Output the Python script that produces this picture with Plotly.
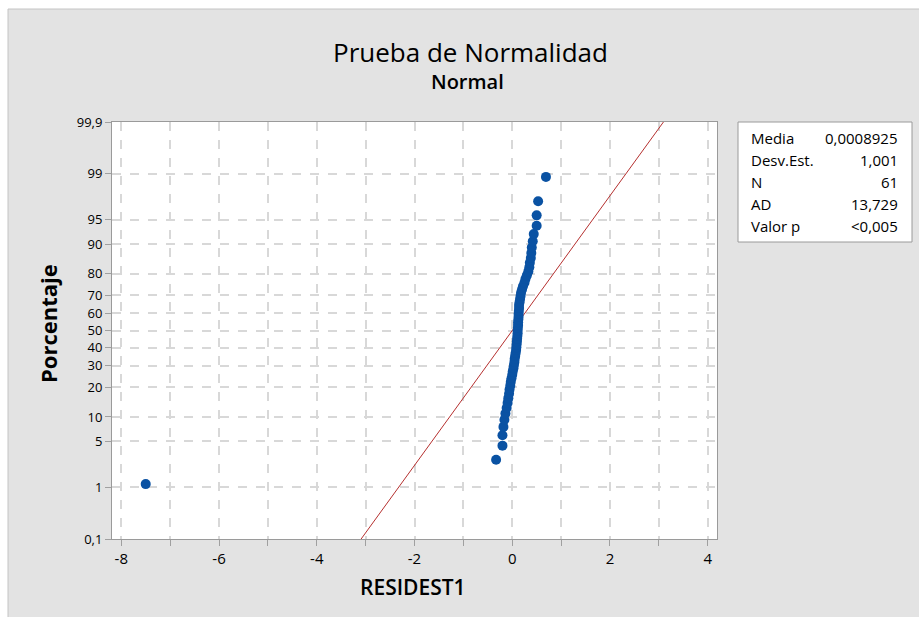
import plotly.graph_objects as go
from statistics import NormalDist

# ---- data ----
residuals = [
    -7.50, -0.33, -0.20, -0.20, -0.18, -0.16, -0.14, -0.115, -0.095, -0.08,
    -0.065, -0.055, -0.04, -0.03, -0.015, 0.00, 0.01, 0.025, 0.035, 0.045,
    0.05, 0.06, 0.07, 0.08, 0.085, 0.09, 0.095, 0.10, 0.105, 0.11,
    0.11, 0.115, 0.12, 0.12, 0.125, 0.13, 0.13, 0.135, 0.14, 0.14,
    0.15, 0.16, 0.17, 0.18, 0.20, 0.22, 0.25, 0.27, 0.30, 0.33,
    0.35, 0.36, 0.38, 0.39, 0.40, 0.42, 0.44, 0.50, 0.50, 0.53, 0.69,
]
mean_val = 0.0008925
sd_val = 1.001
pct_ticks = [0.1, 1, 5, 10, 20, 30, 40, 50, 60, 70, 80, 90, 95, 99, 99.9]
pct_labels = ["0,1", "1", "5", "10", "20", "30", "40", "50", "60", "70", "80", "90", "95", "99", "99,9"]
x_ticks = [-8, -7, -6, -5, -4, -3, -2, -1, 0, 1, 2, 3, 4]
x_labels = ["-8", "", "-6", "", "-4", "", "-2", "", "0", "", "2", "", "4"]
stat_names = ["Media", "Desv.Est.", "N", "AD", "Valor p"]
stat_values = ["0,0008925", "1,001", "61", "13,729", "<0,005"]

nd = NormalDist()
n = len(residuals)
xs = sorted(residuals)
# median ranks (Minitab default) -> normal score
zs = [nd.inv_cdf((i + 1 - 0.3) / (n + 0.4)) for i in range(n)]
ztick = [nd.inv_cdf(p / 100) for p in pct_ticks]
zmin, zmax = ztick[0], ztick[-1]

FONT = "Open Sans"
W, H = 919, 617
L, R, T, B = 112, 717, 122, 539


def px(x):
    return (x - L) / (R - L)


def py(y):
    return (B - y) / (B - T)


fig = go.Figure()
# fitted line
fig.add_trace(go.Scatter(
    x=[mean_val + sd_val * zmin, mean_val + sd_val * zmax], y=[zmin, zmax],
    mode="lines", line=dict(color="#b5302f", width=1), hoverinfo="skip", showlegend=False))
fig.add_trace(go.Scatter(
    x=xs, y=zs, mode="markers",
    marker=dict(color="#0a52a3", size=10, line=dict(width=0)), showlegend=False))

axis_common = dict(
    showgrid=True, gridcolor="#d8d8d8", griddash="dash", gridwidth=1.5,
    zeroline=False, ticks="outside", ticklen=6, tickcolor="#a0a0a0",
    showline=True, linecolor="#9a9a9a", linewidth=1, mirror=True,
)
fig.update_xaxes(range=[-8.19, 4.19], tickvals=x_ticks, ticktext=x_labels,
                 tickfont=dict(family=FONT, size=15, color="#000"), **axis_common)
fig.update_yaxes(range=[zmin, zmax], tickvals=ztick, ticktext=pct_labels,
                 tickfont=dict(family=FONT, size=13, color="#000"), **axis_common)

shapes = [
    # white strips at top and left of the original picture
    dict(type="rect", xref="paper", yref="paper", x0=px(0), x1=px(W), y0=py(0), y1=py(9),
         fillcolor="white", line=dict(width=0), layer="below"),
    dict(type="rect", xref="paper", yref="paper", x0=px(0), x1=px(8), y0=py(0), y1=py(H),
         fillcolor="white", line=dict(width=0), layer="below"),
    dict(type="line", xref="paper", yref="paper", x0=px(8), x1=px(W), y0=py(9), y1=py(9),
         line=dict(color="#c4c4c4", width=1)),
    dict(type="line", xref="paper", yref="paper", x0=px(8), x1=px(8), y0=py(9), y1=py(H),
         line=dict(color="#c4c4c4", width=1)),
    # stats box
    dict(type="rect", xref="paper", yref="paper", x0=px(738), x1=px(912), y0=py(122), y1=py(242),
         fillcolor="white", line=dict(color="#9a9a9a", width=1)),
]

ann = [
    dict(text="Prueba de Normalidad", x=px(470), y=py(52), font=dict(family=FONT, size=26, color="#000")),
    dict(text="Normal", x=px(467), y=py(82), font=dict(family=FONT, size=20, color="#000", weight=600)),
    dict(text="<b>Porcentaje</b>", x=px(48), y=py(324), textangle=-90, font=dict(family=FONT, size=22, color="#000")),
    dict(text="RESIDEST1", x=px(413), y=py(587), font=dict(family=FONT, size=21, color="#000", weight=600)),
]
for a in ann:
    a.update(xref="paper", yref="paper", showarrow=False, xanchor="center", yanchor="middle")

row_y = [138, 160, 182, 204, 226]
for name, val, ry in zip(stat_names, stat_values, row_y):
    ann.append(dict(text=name, x=px(749), y=py(ry), xref="paper", yref="paper", showarrow=False,
                    xanchor="left", yanchor="middle", font=dict(family=FONT, size=15, color="#000")))
    ann.append(dict(text=val, x=px(900), y=py(ry), xref="paper", yref="paper", showarrow=False,
                    xanchor="right", yanchor="middle", font=dict(family=FONT, size=15, color="#000")))

fig.update_layout(
    width=W, height=H,
    margin=dict(l=L, r=W - R, t=T, b=H - B),
    paper_bgcolor="#e3e3e3", plot_bgcolor="white",
    shapes=shapes, annotations=ann, showlegend=False,
    font=dict(family=FONT),
)
fig.write_html("out.html")
